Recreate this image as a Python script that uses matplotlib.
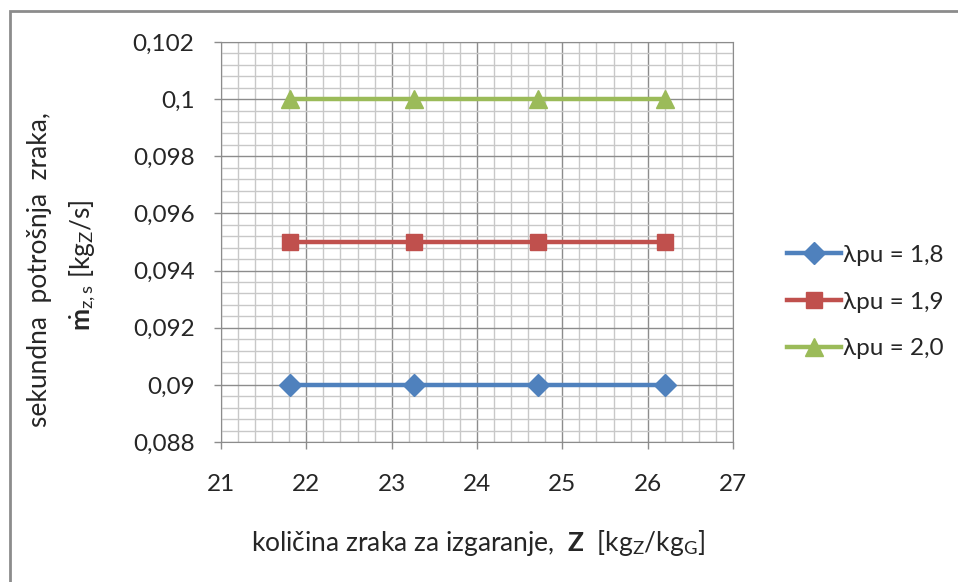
import matplotlib
matplotlib.use("Agg")
import matplotlib.pyplot as plt
from matplotlib.patches import Rectangle
from matplotlib.ticker import MultipleLocator

# data
z_values = [21.81, 23.26, 24.72, 26.2]
m_18 = [0.090, 0.090, 0.090, 0.090]
m_19 = [0.095, 0.095, 0.095, 0.095]
m_20 = [0.100, 0.100, 0.100, 0.100]
series_labels = ["λpu = 1,8", "λpu = 1,9", "λpu = 2,0"]

x_ticks = [21, 22, 23, 24, 25, 26, 27]
y_ticks = [0.088, 0.090, 0.092, 0.094, 0.096, 0.098, 0.100, 0.102]
y_tick_labels = ["0,088", "0,09", "0,092", "0,094", "0,096", "0,098", "0,1", "0,102"]

plt.rcParams['font.family'] = ['Lato', 'DejaVu Sans']
plt.rcParams['mathtext.fontset'] = 'custom'
plt.rcParams['mathtext.rm'] = 'Lato'
plt.rcParams['mathtext.bf'] = 'Lato:bold'
plt.rcParams['mathtext.it'] = 'Lato:italic'

txt = '#262626'
fs = 17.5   # ticks, legend
fs_t = 19   # axis titles

fig = plt.figure(figsize=(9.58, 5.82), dpi=100)
ax = fig.add_axes([221/958, 1 - 442/582, (733 - 221)/958, (442 - 42)/582])

ax.plot(z_values, m_18, '-D', color='#4F81BD', lw=3.2, ms=11, label=series_labels[0])
ax.plot(z_values, m_19, '-s', color='#C0504D', lw=3.2, ms=12, label=series_labels[1])
ax.plot(z_values, m_20, '-^', color='#9BBB59', lw=3.2, ms=13, label=series_labels[2])

ax.set_xlim(21, 27)
ax.set_ylim(0.088, 0.102)
ax.set_xticks(x_ticks)
ax.set_yticks(y_ticks)
ax.set_yticklabels(y_tick_labels)
ax.xaxis.set_minor_locator(MultipleLocator(0.2))
ax.yaxis.set_minor_locator(MultipleLocator(0.0004))
ax.grid(which='major', color='#8c8c8c', lw=1.0)
ax.grid(which='minor', color='#c8c8c8', lw=1.0)
ax.set_axisbelow(True)
ax.tick_params(which='major', direction='out', length=5, width=1, color='#8c8c8c',
               labelsize=fs, labelcolor=txt)
ax.tick_params(axis='y', pad=14)
ax.tick_params(axis='x', pad=18)
ax.tick_params(which='minor', length=0)
for s in ax.spines.values():
    s.set_color('#8c8c8c')

fig.text(478/958, 1 - 543/582,
         r'količina zraka za izgaranje,  $\mathbf{Z}$  [kg$_\mathrm{Z}$/kg$_\mathrm{G}$]',
         ha='center', va='center', fontsize=fs_t, color=txt)
fig.text(40/958, 1 - 270/582, 'sekundna  potrošnja  zraka,', rotation=90,
         ha='center', va='center', fontsize=fs_t, color=txt)
fig.text(83/958, 1 - 265/582,
         r'$\dot{\mathbf{m}}_{\mathrm{z,s}}$ [kg$_\mathrm{Z}$/s]', rotation=90,
         ha='center', va='center', fontsize=fs_t, color=txt)

leg = ax.legend(loc='center left', bbox_to_anchor=(787/958, 1 - 302/582),
                bbox_transform=fig.transFigure, frameon=False, fontsize=fs,
                handlelength=2.22, handletextpad=0.08, labelspacing=1.05,
                borderpad=0, borderaxespad=0)
for t in leg.get_texts():
    t.set_color(txt)

fig.add_artist(Rectangle((10/958, -0.1), 1.2, 1 - 11/582 + 0.1, transform=fig.transFigure,
                         fill=False, edgecolor='#8c8c8c', lw=2))

fig.savefig('out.png', dpi=100)
